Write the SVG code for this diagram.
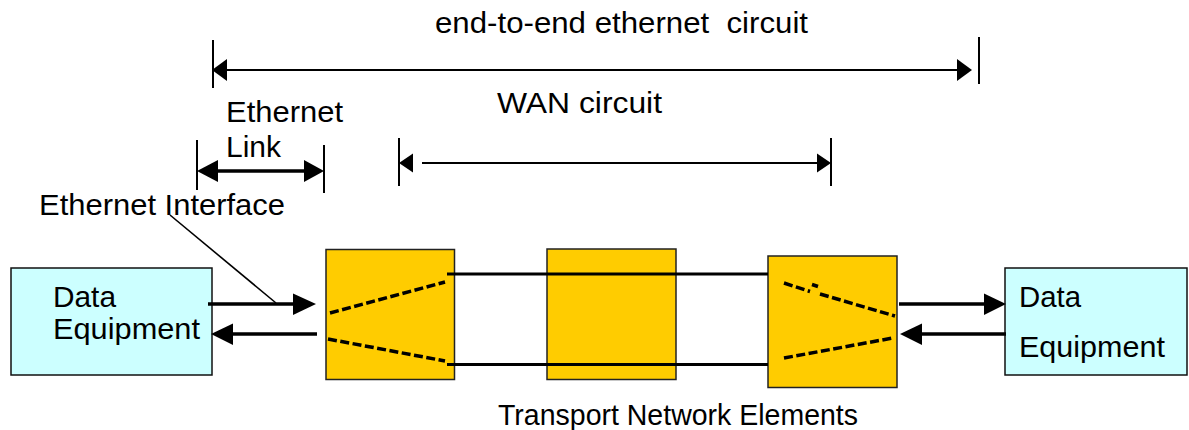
<svg xmlns="http://www.w3.org/2000/svg" width="1189" height="430" viewBox="0 0 1189 430">
<style>
  text { font-family: "Liberation Sans", Arial, sans-serif; font-size: 29.5px; fill: #000; }
  .de { fill: #CCFFFF; stroke: #111; stroke-width: 1.5; }
  .ne { fill: #FFCC00; stroke: #222; stroke-width: 1.5; }
  .dash { fill: none; stroke: #000; stroke-width: 3.5; stroke-dasharray: 9 3.5; }
  .thin { stroke: #000; stroke-width: 2; fill: none; }
  .thick { stroke: #000; stroke-width: 3.5; fill: none; }
  .tick { stroke: #000; stroke-width: 2; }
  .lead { stroke: #000; stroke-width: 1.6; }
  .head { fill: #000; stroke: none; }
</style>
<rect width="1189" height="430" fill="#fff"/>

<g id="data-equipment-left">
  <rect class="de" x="11" y="268" width="201" height="107"/>
  <text x="53" y="307" textLength="63" lengthAdjust="spacingAndGlyphs">Data</text>
  <text x="53" y="339" textLength="147" lengthAdjust="spacingAndGlyphs">Equipment</text>
</g>

<g id="ne-1">
  <rect class="ne" x="326" y="249.5" width="128.5" height="130"/>
  <line class="dash" x1="330" y1="313" x2="445" y2="282"/>
  <line class="dash" x1="328" y1="339" x2="445" y2="361"/>
</g>

<g id="ne-2">
  <rect class="ne" x="547" y="249" width="129" height="130.5"/>
</g>

<g id="ne-3">
  <rect class="ne" x="768" y="256" width="129" height="131.5"/>
  <line class="dash" x1="784" y1="283" x2="810" y2="291.5"/>
  <line class="dash" x1="812" y1="284.5" x2="818" y2="286.5" style="stroke-dasharray:none"/>
  <line class="dash" x1="820" y1="294" x2="895" y2="316"/>
  <line class="dash" x1="784" y1="358" x2="893" y2="338"/>
</g>

<g id="data-equipment-right">
  <rect class="de" x="1005" y="268" width="182" height="107"/>
  <text x="1019" y="307" textLength="62" lengthAdjust="spacingAndGlyphs">Data</text>
  <text x="1019" y="357" textLength="146" lengthAdjust="spacingAndGlyphs">Equipment</text>
</g>

<g id="connectors">
  <!-- end-to-end ethernet circuit -->
  <line class="tick" x1="213" y1="40" x2="213" y2="88"/>
  <line class="tick" x1="979" y1="37" x2="979" y2="84"/>
  <line class="thin" x1="224" y1="70" x2="958" y2="70"/>
  <polygon class="head" points="212,70 227,59 227,81"/>
  <polygon class="head" points="972,70 957,59 957,81"/>

  <!-- Ethernet link -->
  <line class="tick" x1="197" y1="140" x2="197" y2="190"/>
  <line class="tick" x1="324" y1="145" x2="324" y2="193"/>
  <line class="thick" x1="215" y1="171" x2="306" y2="171"/>
  <polygon class="head" points="197,171 218,160 218,182"/>
  <polygon class="head" points="324,171 304,160 304,182"/>

  <!-- WAN circuit -->
  <line class="tick" x1="399" y1="138" x2="399" y2="186"/>
  <line class="tick" x1="831" y1="138" x2="831" y2="186"/>
  <line class="thin" x1="422" y1="163" x2="818" y2="163"/>
  <polygon class="head" points="399,163 413,153.5 413,172.5"/>
  <polygon class="head" points="831,163 817,153.5 817,172.5"/>

  <!-- Ethernet interface leader -->
  <line class="lead" x1="170" y1="215" x2="276" y2="303"/>

  <!-- left arrows -->
  <line class="thick" x1="208" y1="304" x2="296" y2="304"/>
  <polygon class="head" points="316,304 293,293.5 293,315"/>
  <line class="thick" x1="230" y1="334" x2="317" y2="334"/>
  <polygon class="head" points="211,334 233,323.5 233,345"/>

  <!-- trunk lines -->
  <line class="thick" x1="447" y1="274" x2="768" y2="274" style="stroke-width:3"/>
  <line class="thick" x1="447" y1="364.5" x2="768" y2="364.5" style="stroke-width:3"/>

  <!-- right arrows -->
  <line class="thick" x1="899" y1="304" x2="987" y2="304"/>
  <polygon class="head" points="1006,304 984,293.5 984,315"/>
  <line class="thick" x1="920" y1="334" x2="1006" y2="334"/>
  <polygon class="head" points="900,334 922,323.5 922,345"/>
</g>

<g id="labels">
  <text x="435" y="33" xml:space="preserve" textLength="373" lengthAdjust="spacingAndGlyphs">end-to-end ethernet  circuit</text>
  <text x="497" y="113" textLength="165" lengthAdjust="spacingAndGlyphs">WAN circuit</text>
  <text x="226" y="122" textLength="117" lengthAdjust="spacingAndGlyphs">Ethernet</text>
  <text x="226" y="157" textLength="55" lengthAdjust="spacingAndGlyphs">Link</text>
  <text x="39" y="215" textLength="246" lengthAdjust="spacingAndGlyphs">Ethernet Interface</text>
  <text x="498" y="425" textLength="360" lengthAdjust="spacingAndGlyphs">Transport Network Elements</text>
</g>
</svg>
